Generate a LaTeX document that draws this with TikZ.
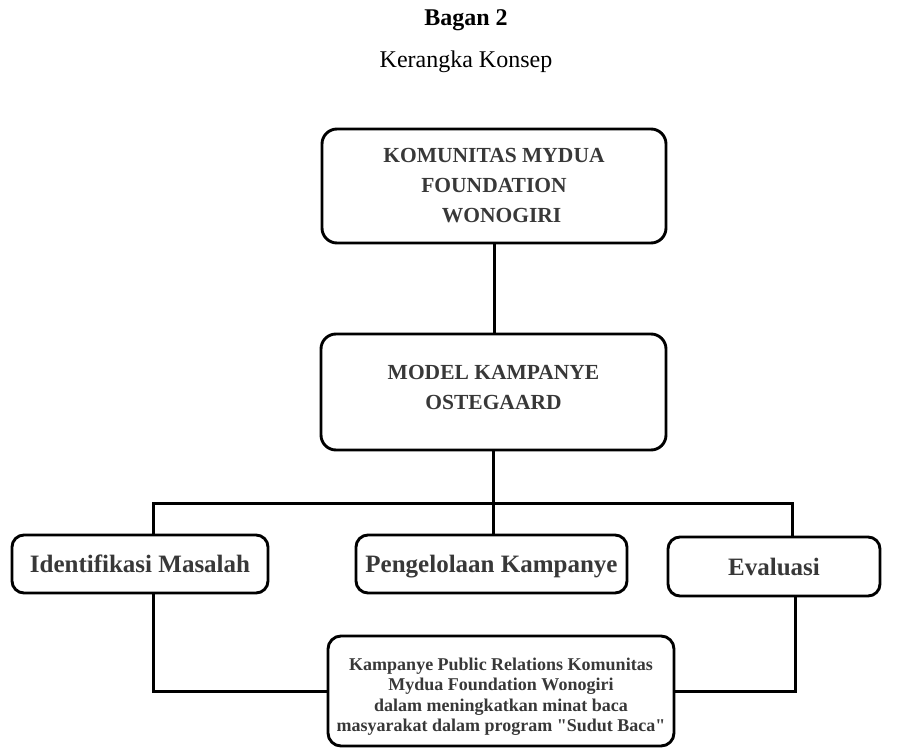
\documentclass[tikz,border=0pt]{standalone}
\usepackage{fontspec}
\setmainfont{Liberation Serif}
\definecolor{boxtext}{HTML}{383838}
\tikzset{
  mainbox/.style={draw, line width=2.9pt, rounded corners=15pt, inner sep=0pt,
    align=center, text=boxtext, font=\bfseries\fontsize{21.5}{30}\selectfont},
  subbox/.style={draw, line width=2.9pt, rounded corners=12pt, inner sep=0pt,
    text height=17pt, text depth=0pt,
    text=boxtext, font=\bfseries\fontsize{25}{30}\selectfont},
  link/.style={line width=3pt},
}
\begin{document}
\begin{tikzpicture}[x=1pt,y=-1pt]
\useasboundingbox (0,0) rectangle (899,749);
% judul
\node[font=\bfseries\fontsize{24}{28}\selectfont] (judul) at (466,20) {Bagan 2};
\node[font=\fontsize{24}{28}\selectfont] (subjudul) at (466,62) {Kerangka Konsep};
% kotak atas
\node[mainbox, minimum width=344pt, minimum height=114pt] (komunitas) at (494,186)
  {KOMUNITAS MYDUA\\FOUNDATION\\\hspace{0.7em}WONOGIRI};
\node[mainbox, minimum width=345pt, minimum height=116pt] (model) at (493.5,392)
  {MODEL KAMPANYE\\OSTEGAARD\rule[-10pt]{0pt}{10pt}};
% tiga tahap
\node[subbox, minimum width=256pt, minimum height=58pt] (identifikasi) at (140,564) {Identifikasi Masalah};
\node[subbox, minimum width=271pt, minimum height=58pt] (pengelolaan) at (491.5,564) {Pengelolaan Kampanye};
\node[subbox, minimum width=212pt, minimum height=59pt] (evaluasi) at (774,566.5) {Evaluasi};
% hasil
\node[mainbox, rounded corners=13pt, minimum width=346pt, minimum height=110pt,
  font=\bfseries\fontsize{18}{20.5}\selectfont] (hasil) at (501,691)
  {\rule{0pt}{24pt}Kampanye Public Relations Komunitas\\Mydua Foundation Wonogiri\\dalam meningkatkan minat baca\\masyarakat dalam program \textquotedbl Sudut Baca\textquotedbl};
% garis
\coordinate (cabangL) at (153,503);
\coordinate (cabangR) at (792,503);
\coordinate (turunR) at (795,600);
\draw[link] (komunitas.south) -- (komunitas.south |- model.north);
\draw[link] (model.south) -- (model.south |- pengelolaan.north);
\draw[link] (cabangL |- identifikasi.north) -- (cabangL) -- (cabangR) -- (cabangR |- evaluasi.north);
\draw[link] (identifikasi.south -| cabangL) |- (hasil.west);
\draw[link] (evaluasi.south -| turunR) |- (hasil.east);
\end{tikzpicture}
\end{document}
